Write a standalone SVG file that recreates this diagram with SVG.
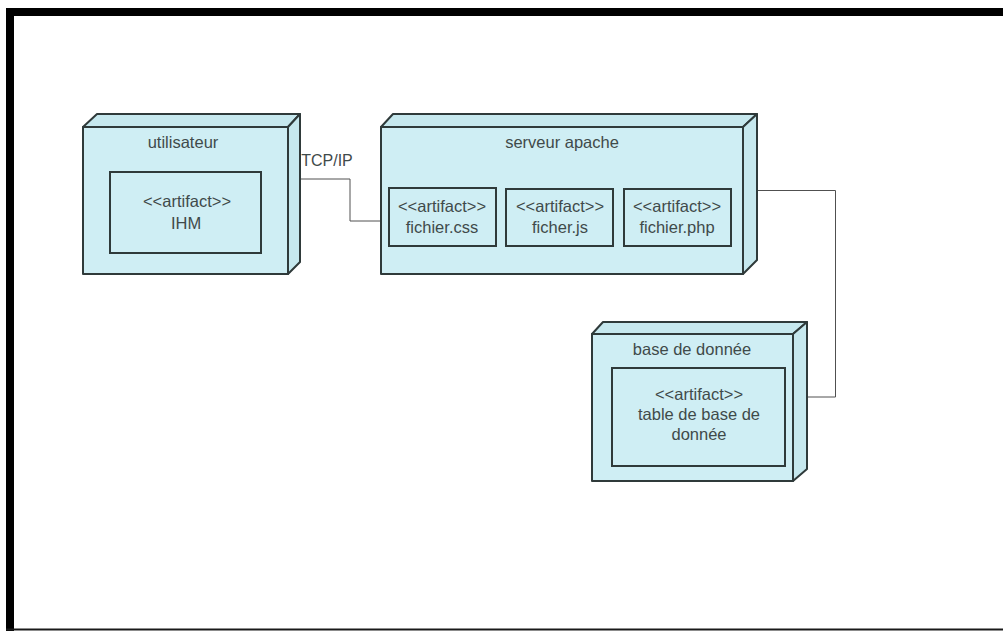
<svg xmlns="http://www.w3.org/2000/svg" width="1003" height="631" viewBox="0 0 1003 631">
<style>
.face{fill:#cfeef4;stroke:#2f3a3a;stroke-width:2;stroke-linejoin:round}
.side{fill:#c6e8ee;stroke:#2f3a3a;stroke-width:2;stroke-linejoin:round}
.art{fill:#cfeef4;stroke:#2f3a3a;stroke-width:2}
.t{font-family:"Liberation Sans",Arial,sans-serif;font-size:16.5px;fill:#3f4a4a;text-anchor:middle}
.conn{fill:none;stroke:#505050;stroke-width:1}
</style>
<rect x="0" y="0" width="1003" height="631" fill="#ffffff"/>
<g id="frame">
<rect x="6" y="8" width="997" height="8" fill="#000"/>
<rect x="6" y="8" width="8" height="623" fill="#000"/>
<rect x="6" y="628.5" width="997" height="2" fill="#1a1a1a"/>
</g>
<g id="connectors">
<polyline class="conn" points="300,179 350,179 350,221 381,221"/>
<polyline class="conn" points="757,190.5 835.5,190.5 835.5,397 807,397"/>
<text class="t" x="327" y="166" style="font-size:16px">TCP/IP</text>
</g>
<g id="utilisateur">
<polygon class="side" points="83,127 97,114 300,114 288,127"/>
<polygon class="side" points="288,127 300,114 300,262 288,274"/>
<rect class="face" x="83" y="127" width="205" height="147"/>
<text class="t" x="183" y="148">utilisateur</text>
<rect class="art" x="110" y="172" width="151" height="81"/>
<text class="t" x="187" y="207">&lt;&lt;artifact&gt;&gt;</text>
<text class="t" x="186" y="229">IHM</text>
</g>
<g id="serveur-apache">
<polygon class="side" points="381,127 393,114 757,114 743,127"/>
<polygon class="side" points="743,127 757,114 757,260 743,274"/>
<rect class="face" x="381" y="127" width="362" height="147"/>
<text class="t" x="562" y="148">serveur apache</text>
<rect class="art" x="389" y="188" width="107" height="58"/>
<text class="t" x="442" y="212">&lt;&lt;artifact&gt;&gt;</text>
<text class="t" x="442" y="233">fichier.css</text>
<rect class="art" x="506" y="189" width="107" height="57"/>
<text class="t" x="560" y="212">&lt;&lt;artifact&gt;&gt;</text>
<text class="t" x="560" y="233">ficher.js</text>
<rect class="art" x="624" y="189" width="107" height="57"/>
<text class="t" x="677" y="212">&lt;&lt;artifact&gt;&gt;</text>
<text class="t" x="677" y="233">fichier.php</text>
</g>
<g id="base-de-donnee">
<polygon class="side" points="592,334 603,322 807,322 793,334"/>
<polygon class="side" points="793,334 807,322 807,469 793,481"/>
<rect class="face" x="592" y="334" width="201" height="147"/>
<text class="t" x="692" y="355">base de donnée</text>
<rect class="art" x="612" y="368" width="173" height="98"/>
<text class="t" x="699" y="400">&lt;&lt;artifact&gt;&gt;</text>
<text class="t" x="699" y="420">table de base de</text>
<text class="t" x="699" y="440">donnée</text>
</g>
</svg>
